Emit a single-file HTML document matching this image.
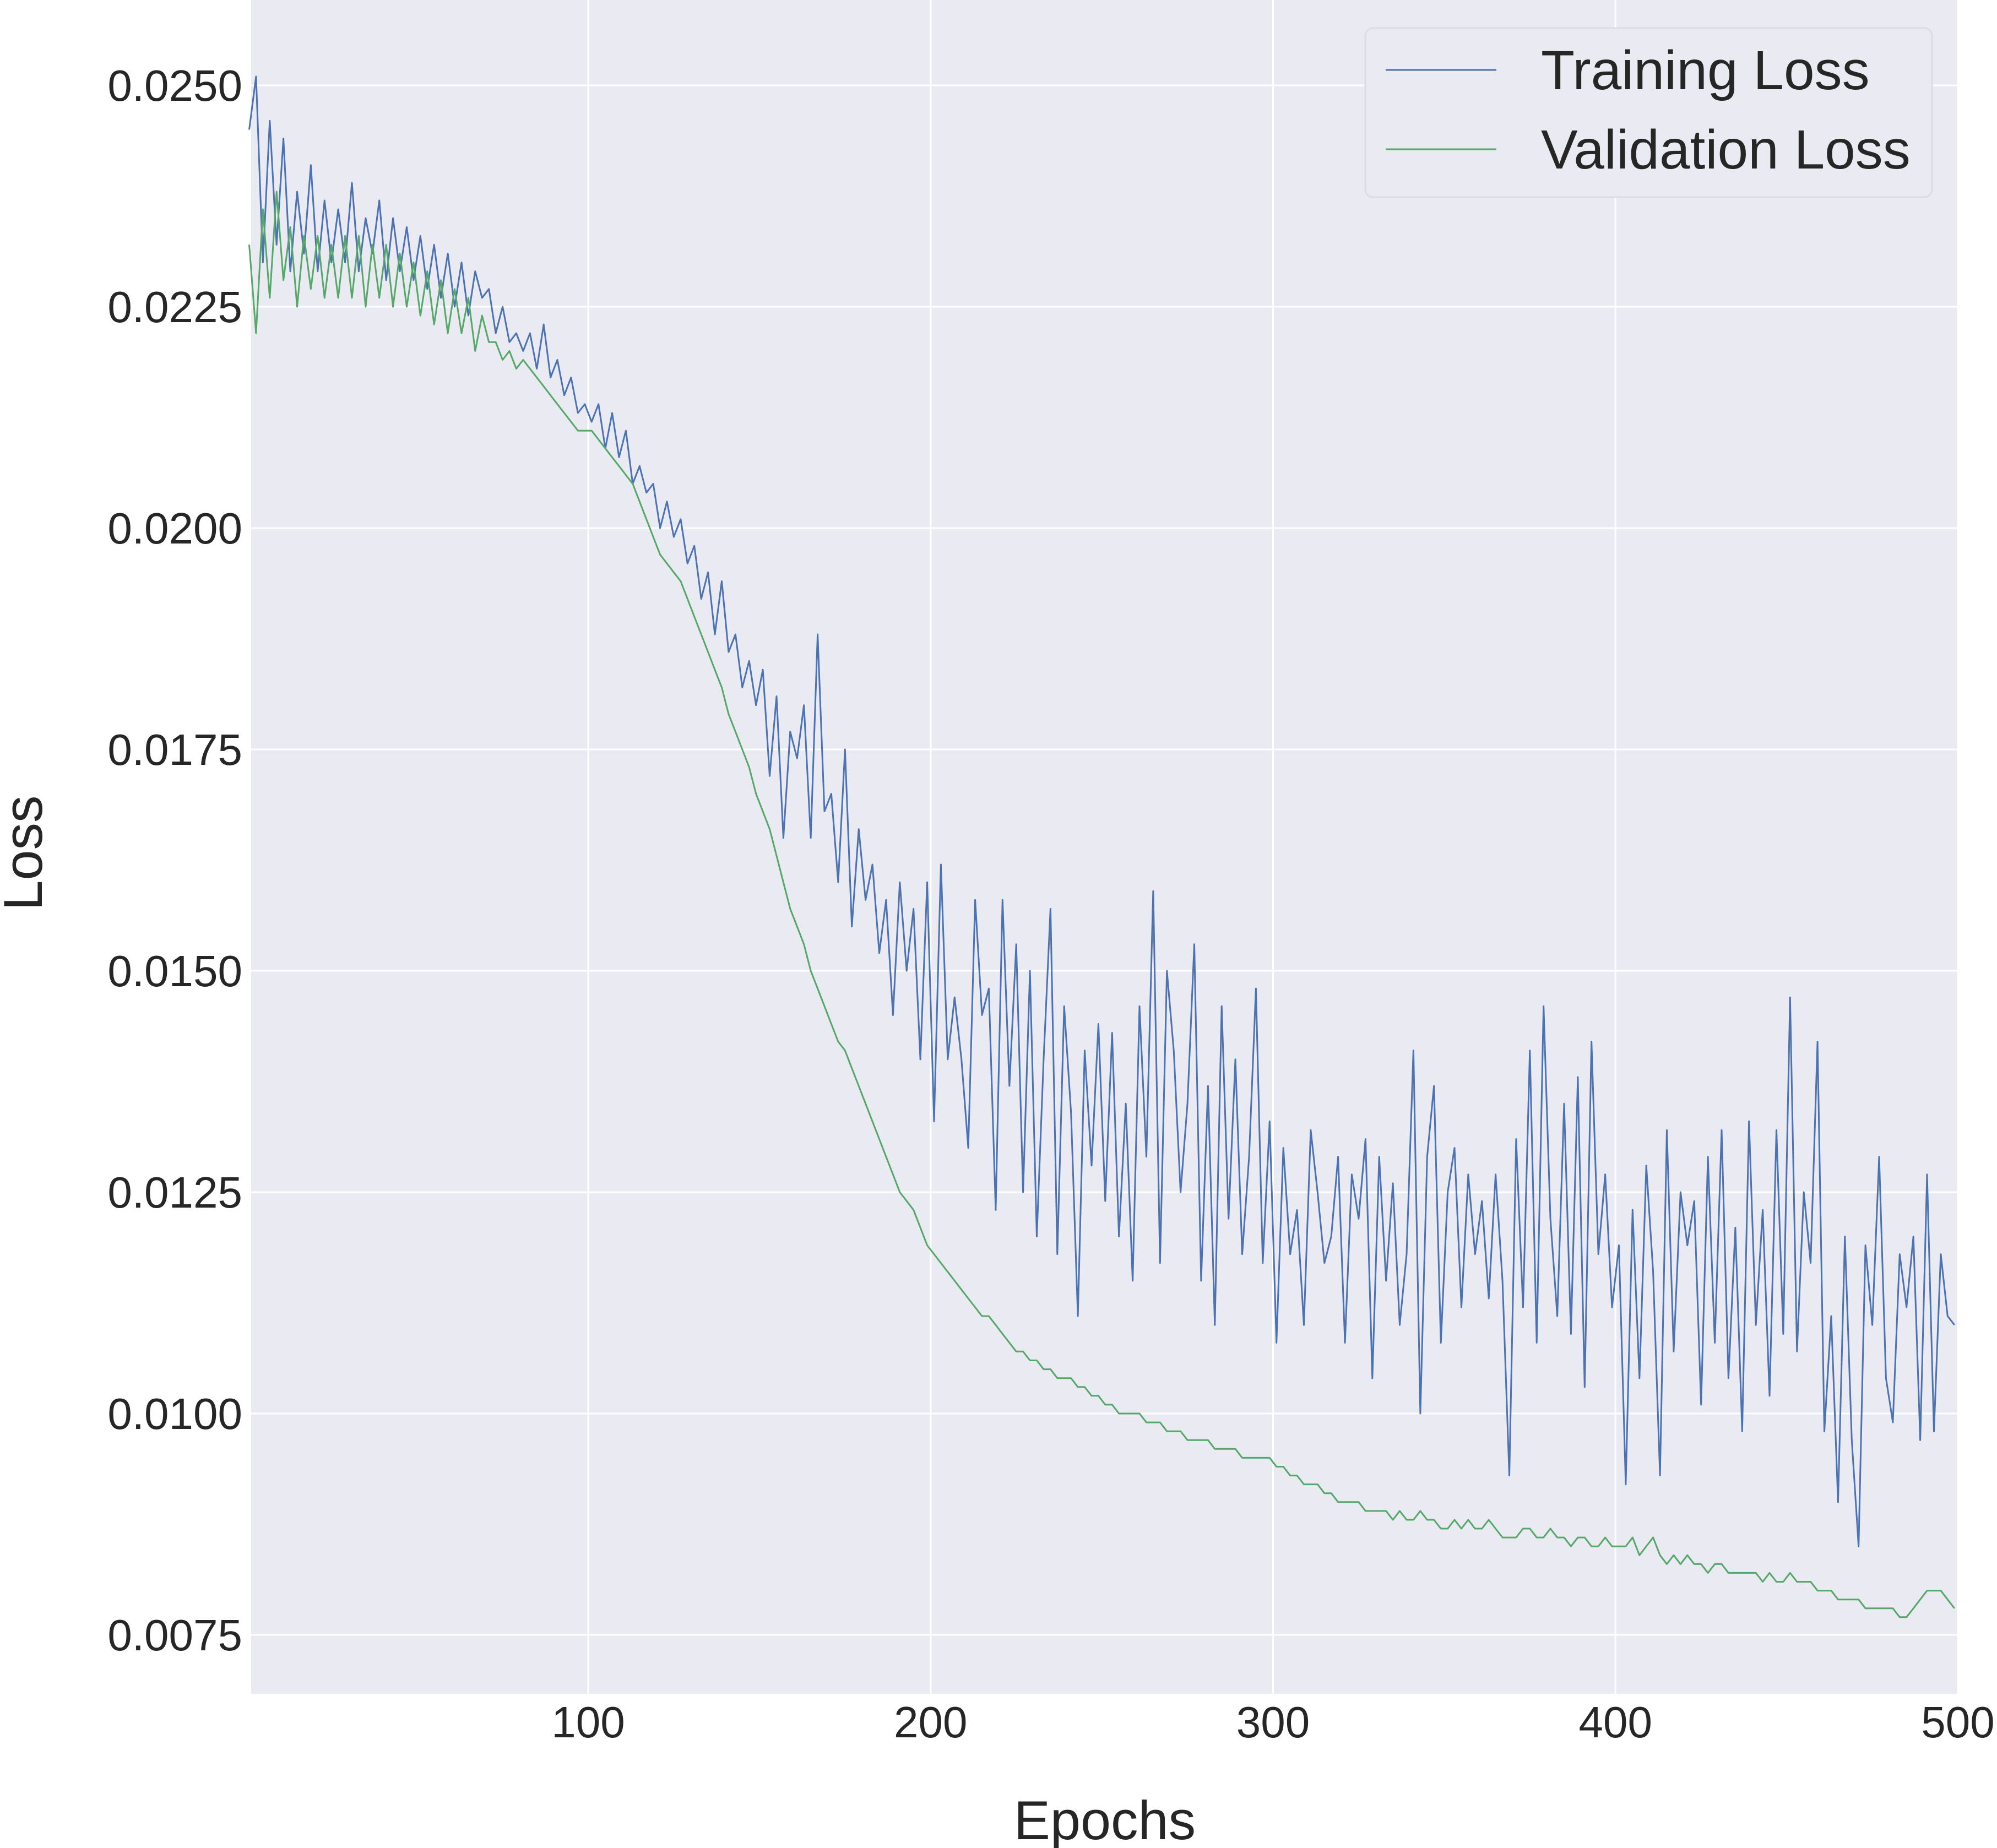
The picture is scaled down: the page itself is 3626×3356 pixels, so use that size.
<!DOCTYPE html>
<html><head><meta charset="utf-8"><style>
html,body{margin:0;padding:0;background:#fff;}
svg{display:block;font-family:"Liberation Sans",Arial,sans-serif;}
</style></head><body>
<svg id="chart" width="3626" height="3356" viewBox="0 0 3626 3356" xmlns="http://www.w3.org/2000/svg">
<rect x="456" y="0" width="3099" height="3076" fill="#EAEAF2"/>
<g id="grid"></g>
<g id="series"></g>
<g id="axes"></g>
<text x="2006" y="3340" font-size="99" fill="#262626" text-anchor="middle">Epochs</text>
<text x="76" y="1549" font-size="99" fill="#262626" text-anchor="middle" transform="rotate(-90 76 1549)">Loss</text>
<g>
<rect x="2479" y="51" width="1029" height="307" rx="14" fill="#EAEAF2" stroke="#dcdce6" stroke-width="3"/>
<line x1="2516" y1="127" x2="2717" y2="127" stroke="#4C72B0" stroke-width="3"/>
<text x="2798" y="162" font-size="100" fill="#262626">Training Loss</text>
<line x1="2516" y1="271" x2="2717" y2="271" stroke="#55A868" stroke-width="3"/>
<text x="2798" y="306" font-size="100" fill="#262626">Validation Loss</text>
</g>
</svg>
<script>
const epochStart = 1;
const epochStep = 2;
const trainingLoss = [
245,251,230,246,232,244,229,238,231,241,
229,237,230,236,230,239,229,235,231,237,
228,235,229,234,228,233,227,232,226,231,
225,230,224,229,226,227,222,225,221,222,
220,222,218,223,217,219,215,217,213,214,
212,214,209,213,208,211,205,207,204,205,
200,203,199,201,196,198,192,195,188,194,
186,188,182,185,180,184,172,181,165,177,
174,180,165,188,168,170,160,175,155,166,
158,162,152,158,145,160,150,157,140,160,
133,162,140,147,140,130,158,145,148,123,
158,137,153,125,150,120,140,157,118,146,
134,111,141,128,144,124,143,120,135,115,
146,129,159,117,150,141,125,135,153,115,
137,110,146,122,140,118,129,148,117,133,
108,130,118,123,110,132,125,117,120,129,
108,127,122,131,104,129,115,126,110,118,
141,100,129,137,108,125,130,112,127,118,
124,113,127,115,93,131,112,141,108,146,
122,111,135,109,138,103,142,118,127,112,
119,92,123,104,128,116,93,132,107,125,
119,124,101,129,108,132,104,121,98,133,
110,123,102,132,109,147,107,125,117,142,
98,111,90,120,97,85,119,110,129,104,
99,118,112,120,97,127,98,118,111,110];
const validationLoss = [
232,222,236,226,238,228,234,225,233,227,
233,226,232,226,233,226,233,225,232,226,
232,225,231,225,230,224,229,223,228,222,
227,222,226,220,224,221,221,219,220,218,
219,218,217,216,215,214,213,212,211,211,
211,210,209,208,207,206,205,203,201,199,
197,196,195,194,192,190,188,186,184,182,
179,177,175,173,170,168,166,163,160,157,
155,153,150,148,146,144,142,141,139,137,
135,133,131,129,127,125,124,123,121,119,
118,117,116,115,114,113,112,111,111,110,
109,108,107,107,106,106,105,105,104,104,
104,103,103,102,102,101,101,100,100,100,
100,99,99,99,98,98,98,97,97,97,
97,96,96,96,96,95,95,95,95,95,
94,94,93,93,92,92,92,91,91,90,
90,90,90,89,89,89,89,88,89,88,
88,89,88,88,87,87,88,87,88,87,
87,88,87,86,86,86,87,87,86,86,
87,86,86,85,86,86,85,85,86,85,
85,85,86,84,85,86,84,83,84,83,
84,83,83,82,83,83,82,82,82,82,
82,81,82,81,81,82,81,81,81,80,
80,80,79,79,79,79,78,78,78,78,
78,77,77,78,79,80,80,80,79,78];
const xTicks = [100,200,300,400,500];
const yTicks = [0.0075,0.0100,0.0125,0.0150,0.0175,0.0200,0.0225,0.0250];
const yTickLabels = ["0.0075","0.0100","0.0125","0.0150","0.0175","0.0200","0.0225","0.0250"];

const NS = "http://www.w3.org/2000/svg";
function xScale(e){ return 1068 + (e - 100) * 6.2175; }
function yScale(v){ return 2969 - (v - 0.0075) / 0.0025 * 402; }

const grid = document.getElementById('grid');
const axes = document.getElementById('axes');
const series = document.getElementById('series');

xTicks.forEach(function(t){
  const l = document.createElementNS(NS,'line');
  
  
  l.setAttribute('x1', xScale(t)); l.setAttribute('x2', xScale(t));
  l.setAttribute('y1', 0); l.setAttribute('y2', 3076);
  l.setAttribute('stroke', '#fff'); l.setAttribute('stroke-width', 3);
  grid.appendChild(l);
  const tx = document.createElementNS(NS,'text');
  
  
  tx.setAttribute('x', xScale(t)); tx.setAttribute('y', 3155);
  tx.setAttribute('font-size', 80); tx.setAttribute('fill', '#262626');
  tx.setAttribute('text-anchor', 'middle');
  tx.textContent = String(t);
  axes.appendChild(tx);
});
yTicks.forEach(function(t, i){
  const l = document.createElementNS(NS,'line');
  
  
  l.setAttribute('x1', 456); l.setAttribute('x2', 3555);
  l.setAttribute('y1', yScale(t)); l.setAttribute('y2', yScale(t));
  l.setAttribute('stroke', '#fff'); l.setAttribute('stroke-width', 3);
  grid.appendChild(l);
  const tx = document.createElementNS(NS,'text');
  
  
  tx.setAttribute('x', 440); tx.setAttribute('y', yScale(t) + 28);
  tx.setAttribute('font-size', 80); tx.setAttribute('fill', '#262626');
  tx.setAttribute('text-anchor', 'end');
  tx.textContent = yTickLabels[i];
  axes.appendChild(tx);
});

function drawLine(values, color, name){
  const pts = values.map(function(v, i){
    return xScale(epochStart + i * epochStep).toFixed(1) + ',' + yScale(v / 10000).toFixed(1);
  }).join(' ');
  const p = document.createElementNS(NS,'polyline');
  
  
  p.setAttribute('points', pts);
  p.setAttribute('fill', 'none');
  p.setAttribute('stroke', color);
  p.setAttribute('stroke-width', 3);
  p.setAttribute('stroke-linejoin', 'round');
  series.appendChild(p);
}
drawLine(trainingLoss, '#4C72B0', 'training-loss-line');
drawLine(validationLoss, '#55A868', 'validation-loss-line');
</script>
</body></html>
